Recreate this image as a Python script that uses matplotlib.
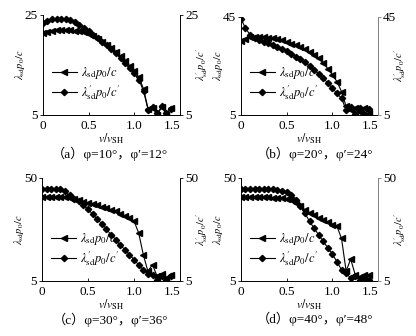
import matplotlib
matplotlib.use("Agg")
import matplotlib.pyplot as plt

plt.rcParams['font.family'] = ['Liberation Serif', 'Noto Sans CJK SC', 'DejaVu Sans']
plt.rcParams['mathtext.fontset'] = 'stix'
plt.rcParams['font.size'] = 9

# v/v_SH sampling, shared by every series
ratio = [0.00, 0.05, 0.10, 0.15, 0.20, 0.25, 0.30, 0.35, 0.40, 0.45,
         0.50, 0.55, 0.60, 0.65, 0.70, 0.75, 0.80, 0.85, 0.90, 0.95,
         1.00, 1.05, 1.10, 1.15, 1.20, 1.25, 1.30, 1.35, 1.40]

# (a) phi=10, phi'=12
lam_a = [21.3, 21.6, 21.8, 21.9, 22.0, 22.0, 21.9, 21.8, 21.7, 21.5,
         21.2, 20.7, 20.2, 19.6, 19.0, 18.3, 17.5, 16.7, 15.8, 14.8,
         13.8, 12.5, 10.2, 6.2, 6.4, 5.0, 6.6, 5.0, 6.3]
lamp_a = [23.3, 23.8, 24.1, 24.2, 24.2, 24.1, 23.9, 23.5, 23.0, 22.4,
          21.7, 21.0, 20.3, 19.6, 18.9, 18.1, 17.3, 16.4, 15.4, 14.4,
          13.3, 12.0, 9.8, 6.0, 6.5, 5.3, 6.7, 5.4, 6.2]

# (b) phi=20, phi'=24
lam_b = [35.3, 36.1, 36.6, 36.7, 36.7, 36.6, 36.5, 36.2, 35.9, 35.4,
         34.6, 34.0, 33.3, 32.6, 31.8, 30.7, 29.5, 28.0, 26.1, 23.9,
         21.3, 18.6, 14.5, 8.5, 6.8, 8.0, 6.0, 7.8, 5.8]
lamp_b = [44.3, 40.4, 37.7, 36.3, 35.6, 34.9, 34.3, 33.5, 32.6, 31.8,
          30.9, 29.9, 28.8, 27.6, 26.4, 25.0, 23.4, 21.8, 20.0, 18.0,
          15.9, 13.8, 11.8, 7.1, 8.1, 5.4, 7.7, 5.2, 7.4]

# (c) phi=30, phi'=36
lam_c = [41.4, 41.5, 41.5, 41.5, 41.5, 41.4, 41.3, 40.8, 40.1, 39.5,
         38.9, 38.4, 37.9, 37.4, 36.8, 36.1, 35.3, 34.4, 33.4, 32.5,
         31.0, 25.9, 16.4, 9.2, 12.1, 7.0, 8.0, 6.3, 7.7]
lamp_c = [45.2, 45.3, 45.3, 45.2, 44.9, 44.0, 42.3, 40.8, 39.7, 37.9,
          36.3, 34.1, 32.0, 29.8, 27.6, 25.1, 22.9, 20.7, 18.6, 16.4,
          14.2, 12.0, 9.8, 7.9, 7.4, 5.6, 7.0, 5.3, 7.2]

# (d) phi=40, phi'=48
lam_d = [41.4, 41.5, 41.5, 41.5, 41.5, 41.4, 41.4, 41.3, 41.2, 41.0,
         40.8, 40.2, 39.0, 37.6, 36.0, 34.8, 33.6, 32.5, 31.4, 30.5,
         29.6, 28.8, 23.5, 9.3, 14.5, 7.6, 6.9, 7.6, 7.6]
lamp_d = [45.2, 45.3, 45.3, 45.3, 45.3, 45.2, 45.1, 45.0, 44.8, 44.3,
          43.6, 42.3, 40.2, 37.5, 34.5, 31.0, 28.0, 25.1, 22.2, 19.5,
          16.6, 13.4, 9.8, 8.4, 6.2, 7.0, 5.4, 6.3, 5.2]

LAM = r'$\lambda_{\rm sd}p_0/c$'
LAMP = r'$\lambda_{\rm sd}^{\prime}p_0/c^{\prime}$'

panels = [
    (lam_a, lamp_a, 25, 'a', '10', '12', 'black'),
    (lam_b, lamp_b, 45, 'b', '20', '24', '0.5'),
    (lam_c, lamp_c, 50, 'c', '30', '36', 'black'),
    (lam_d, lamp_d, 50, 'd', '40', '48', '0.5'),
]
boxes = [
    [0.103, 0.658, 0.330, 0.298],
    [0.579, 0.658, 0.330, 0.292],
    [0.101, 0.164, 0.332, 0.307],
    [0.579, 0.164, 0.330, 0.307],
]
captions = [(0.265, 0.522), (0.757, 0.522), (0.265, 0.026), (0.757, 0.031)]

fig = plt.figure(figsize=(4.16, 3.36), dpi=100)

for (lam, lamp, ytop, tag, p1, p2, rcol), box, (cx, cy) in zip(panels, boxes, captions):
    ax = fig.add_axes(box)
    ax.plot(ratio, lam, '-', color='black', lw=0.8, marker='<', ms=4.5, label=LAM)
    ax.plot(ratio, lamp, '-', color='black', lw=0.8, marker='D', ms=3.2, label=LAMP)
    ax.set_xlim(0, 1.5)
    ax.set_ylim(5, ytop)
    ax.set_xticks([0, 0.5, 1.0, 1.5])
    xlabels = ax.set_xticklabels(['0', '0.5', '1.0', '1.5'])
    xlabels[-1].set_horizontalalignment('right')   # keep "1.5" clear of the right "5"
    ax.set_yticks([5, ytop])
    ax.tick_params(axis='x', direction='in', length=2.5, width=0.6, pad=3.5, labelsize=9.5)
    ax.tick_params(axis='y', direction='out', length=2.5, width=0.6, pad=1, labelsize=9.5)
    ax.spines['top'].set_visible(False)
    ax.spines['right'].set_visible(False)
    for s in ['left', 'bottom']:
        ax.spines[s].set_linewidth(0.7)
    ax.set_xlabel(r'$v/v_{\rm SH}$', fontsize=8.5, labelpad=0)
    ax.set_ylabel(LAM, fontsize=7.5)
    ax.yaxis.set_label_coords(-0.118, 0.5)
    ax.legend(loc='lower left', bbox_to_anchor=(0.03, 0.08), frameon=False,
              fontsize=9, handlelength=2.0, handletextpad=0.3,
              labelspacing=0.15, borderaxespad=0)

    rx = ax.twinx()
    rx.set_ylim(5, ytop)
    rx.set_yticks([5, ytop])
    rx.tick_params(axis='y', direction='out', length=2.5, width=0.6, pad=1,
                   labelsize=9.5, color=rcol)
    for s in ['top', 'left', 'bottom']:
        rx.spines[s].set_visible(False)
    rx.spines['right'].set_color(rcol)
    rx.spines['right'].set_linewidth(0.7)
    rx.set_ylabel(LAMP, fontsize=7.5)
    rx.yaxis.set_label_coords(1.10, 0.5)

    fig.text(cx, cy, '（' + tag + '）φ=' + p1 + '°，φ′=' + p2 + '°',
             ha='center', va='bottom', fontsize=9.5)

fig.savefig('out.png', dpi=100)
